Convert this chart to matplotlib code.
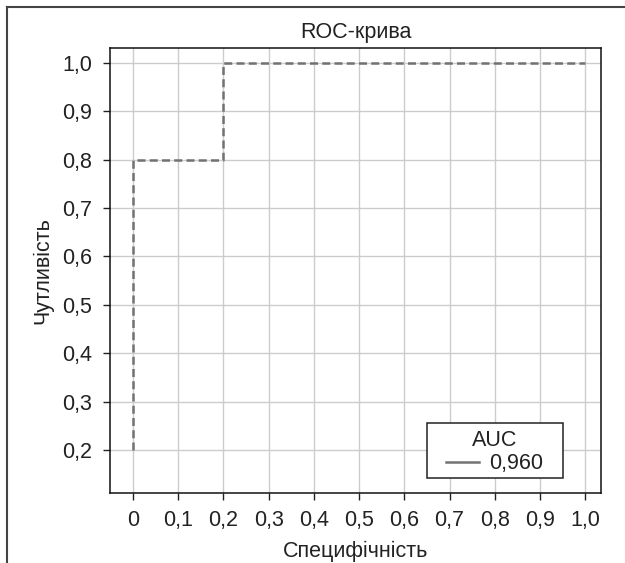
import matplotlib
matplotlib.use("Agg")
import matplotlib.pyplot as plt
from matplotlib.lines import Line2D
from matplotlib.patches import Rectangle

# ROC curve points (specificity axis as plotted, sensitivity)
spec = [0.0, 0.0, 0.2, 0.2, 1.0]
sens = [0.2, 0.8, 0.8, 1.0, 1.0]
auc_label = "0,960"

x_ticks = [0, 0.1, 0.2, 0.3, 0.4, 0.5, 0.6, 0.7, 0.8, 0.9, 1.0]
x_tick_labels = ["0", "0,1", "0,2", "0,3", "0,4", "0,5", "0,6", "0,7", "0,8", "0,9", "1,0"]
y_ticks = [0.2, 0.3, 0.4, 0.5, 0.6, 0.7, 0.8, 0.9, 1.0]
y_tick_labels = ["0,2", "0,3", "0,4", "0,5", "0,6", "0,7", "0,8", "0,9", "1,0"]

plt.rcParams["font.family"] = ["Liberation Sans", "DejaVu Sans"]

fig = plt.figure(figsize=(6.25, 5.63), dpi=100)
W, H = 625, 563
ax = fig.add_axes([110 / W, 1 - 493 / H, (601 - 110) / W, (493 - 48) / H])

ax.plot(spec, sens, color="#727272", lw=1.8, ls=(0, (3.2, 1.7)), label=auc_label)

ax.set_xlim(-0.051, 1.035)
ax.set_ylim(0.111, 1.031)
ax.set_xticks(x_ticks)
ax.set_xticklabels(x_tick_labels)
ax.set_yticks(y_ticks)
ax.set_yticklabels(y_tick_labels)
ax.tick_params(axis="both", labelsize=15.5, length=5, width=1, color="#222222", labelcolor="#222222")
ax.tick_params(axis="y", pad=8)
ax.tick_params(axis="x", pad=7)
ax.grid(True, color="#cccccc", lw=1)
ax.set_axisbelow(True)
for s in ax.spines.values():
    s.set_color("#111111")
    s.set_linewidth(1.1)

ax.set_title("ROC-крива", fontsize=15.5, pad=7, color="#222222")
ax.set_xlabel("Специфічність", fontsize=15.5, color="#222222", labelpad=7)
ax.set_ylabel("Чутливість", fontsize=15.5, color="#222222", labelpad=6)

# legend box drawn separately so it can be wider than its content
box = Rectangle(((427 - 110) / 491, (493 - 478) / 445), 136 / 491, 55 / 445,
                transform=ax.transAxes, facecolor="white", edgecolor="#222222",
                lw=1.1, zorder=4)
ax.add_patch(box)
handle = Line2D([], [], color="#727272", lw=1.8)
leg = ax.legend([handle], [auc_label], title="AUC", loc="center",
                bbox_to_anchor=((495 - 110) / 491, (493 - 452) / 445),
                borderaxespad=0, fontsize=15.5, title_fontsize=15.5,
                frameon=False, handlelength=1.5, handletextpad=0.5,
                borderpad=0, labelspacing=0.1)
leg.set_zorder(5)
leg.get_title().set_color("#222222")
for t in leg.get_texts():
    t.set_color("#222222")

# outer frame (top and left edges)
fig.add_artist(Line2D([7 / W, 7 / W], [0, 1 - 7 / H], color="#444444", lw=1.5))
fig.add_artist(Line2D([7 / W, 1], [1 - 7 / H, 1 - 7 / H], color="#444444", lw=1.5))

fig.savefig("out.png", dpi=100)
